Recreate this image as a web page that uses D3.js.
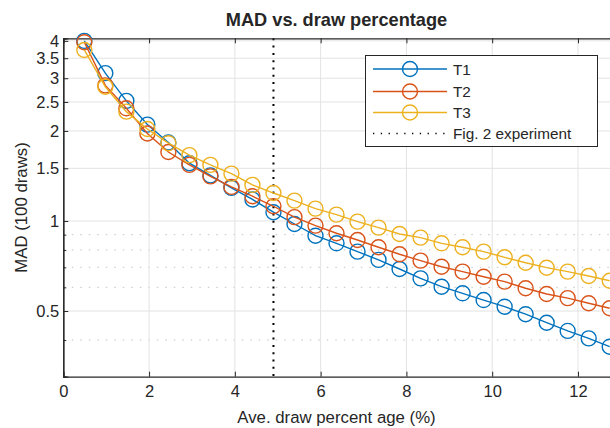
<!DOCTYPE html>
<html>
<head>
<meta charset="utf-8">
<script src="https://cdn.jsdelivr.net/npm/d3@7"></script>
<style>
  html, body { margin: 0; padding: 0; background: #fff; }
  text { font-family: "Liberation Sans", Arial, sans-serif; fill: #262626; }
</style>
</head>
<body>
<script>
// draw percentages (x)
const drawPct = [0.49, 0.98, 1.47, 1.96, 2.45, 2.94, 3.43, 3.92, 4.41, 4.90,
                 5.39, 5.88, 6.37, 6.86, 7.35, 7.84, 8.33, 8.82, 9.31, 9.80,
                 10.29, 10.78, 11.27, 11.76, 12.25, 12.74];

// MAD values per series
const t1 = [4.00, 3.12, 2.52, 2.10, 1.83, 1.56, 1.42, 1.29, 1.18, 1.07,
            0.977, 0.893, 0.842, 0.790, 0.741, 0.691, 0.643, 0.603, 0.573, 0.544,
            0.517, 0.488, 0.457, 0.429, 0.405, 0.380];
const t2 = [3.96, 2.84, 2.38, 1.96, 1.70, 1.54, 1.41, 1.30, 1.21, 1.12,
            1.03, 0.965, 0.910, 0.864, 0.817, 0.774, 0.737, 0.703, 0.677, 0.651,
            0.627, 0.596, 0.570, 0.552, 0.531, 0.511];
const t3 = [3.73, 2.81, 2.32, 2.03, 1.82, 1.66, 1.54, 1.44, 1.32, 1.24,
            1.17, 1.10, 1.05, 0.995, 0.950, 0.905, 0.880, 0.842, 0.817, 0.790,
            0.756, 0.725, 0.698, 0.677, 0.655, 0.631];

const seriesNames  = ['T1', 'T2', 'T3'];
const seriesColors = ['#0072BD', '#D95319', '#EDB120'];

// axis ticks
const xTicks     = [0, 2, 4, 6, 8, 10, 12];
const yTicks     = [0.5, 1, 1.5, 2, 2.5, 3, 3.5, 4];
const yMinor     = [0.4, 0.6, 0.7, 0.8, 0.9];
const experiment = 4.9;

const width  = 610;
const height = 428;

// plot area
const plotLeft   = 63.3;
const plotRight  = 611;
const plotTop    = 38.3;
const plotBottom = 376.7;

const svg = d3.select('body')
  .append('svg')
    .attr('width',  width)
    .attr('height', height);

// scales
const x = d3.scaleLinear().domain([0, 12.77]).range([plotLeft, plotRight]);
const y = d3.scaleLog().domain([0.3016, 4.08]).range([plotBottom, plotTop]);

// minor grid (dotted)
svg.append('g')
  .selectAll('line')
  .data(yMinor)
  .join('line')
    .attr('x1', plotLeft).attr('x2', plotRight)
    .attr('y1', (d) => y(d)).attr('y2', (d) => y(d))
    .attr('stroke', '#c4c4c4')
    .attr('stroke-width', 1)
    .attr('stroke-dasharray', '1.5,7');

// major grid
const grid = svg.append('g').attr('stroke', '#e3e3e3').attr('stroke-width', 1);

grid.selectAll('.gx')
  .data(xTicks.filter((d) => d > 0))
  .join('line')
    .attr('class', 'gx')
    .attr('x1', (d) => x(d)).attr('x2', (d) => x(d))
    .attr('y1', plotTop).attr('y2', plotBottom);

grid.selectAll('.gy')
  .data(yTicks)
  .join('line')
    .attr('class', 'gy')
    .attr('x1', plotLeft).attr('x2', plotRight)
    .attr('y1', (d) => y(d)).attr('y2', (d) => y(d));

// experiment line
svg.append('line')
  .attr('x1', x(experiment)).attr('x2', x(experiment))
  .attr('y1', plotTop).attr('y2', plotBottom)
  .attr('stroke', '#000')
  .attr('stroke-width', 2)
  .attr('stroke-dasharray', '2,5.3');

// axes
const xAxis = svg.append('g')
  .attr('transform', `translate(0,${plotBottom})`)
  .call(d3.axisBottom(x).tickValues(xTicks).tickSize(-5).tickPadding(9).tickFormat(d3.format('d')));

const xAxisTop = svg.append('g')
  .attr('transform', `translate(0,${plotTop})`)
  .call(d3.axisTop(x).tickValues(xTicks).tickSize(-5).tickFormat(''));

const yAxis = svg.append('g')
  .attr('transform', `translate(${plotLeft},0)`)
  .call(d3.axisLeft(y).tickValues(yTicks).tickSize(-5).tickPadding(4).tickFormat(d3.format('')));

const yAxisMinor = svg.append('g')
  .attr('transform', `translate(${plotLeft},0)`)
  .call(d3.axisLeft(y).tickValues(yMinor).tickSize(-3).tickFormat(''));

[xAxis, xAxisTop, yAxis, yAxisMinor].forEach((a) => {
  a.select('.domain').attr('stroke', '#262626').attr('stroke-width', 1.2);
  a.selectAll('.tick line').attr('stroke', '#262626');
  a.selectAll('.tick text')
    .attr('font-size', 16.5)
    .attr('fill', '#262626')
    .style('font-family', '"Liberation Sans", Arial, sans-serif');
});

// series
const line = d3.line()
  .x((d) => x(d[0]))
  .y((d) => y(d[1]));

[t1, t2, t3].forEach((vals, i) => {
  const pts = drawPct.map((p, j) => [p, vals[j]]);
  const g = svg.append('g');

  g.append('path')
    .datum(pts)
    .attr('d', line)
    .attr('fill', 'none')
    .attr('stroke', seriesColors[i])
    .attr('stroke-width', 1.4);

  g.selectAll('circle')
    .data(pts)
    .join('circle')
      .attr('cx', (d) => x(d[0]))
      .attr('cy', (d) => y(d[1]))
      .attr('r', 7.5)
      .attr('fill', 'none')
      .attr('stroke', seriesColors[i])
      .attr('stroke-width', 1.4);
});

// title and labels
svg.append('text')
  .attr('x', 336.5).attr('y', 26)
  .attr('text-anchor', 'middle')
  .attr('font-size', 18.2)
  .attr('font-weight', 'bold')
  .text('MAD vs. draw percentage');

svg.append('text')
  .attr('x', 336.5).attr('y', 423)
  .attr('text-anchor', 'middle')
  .attr('font-size', 16.8)
  .text('Ave. draw percent age (%)');

svg.append('text')
  .attr('transform', `translate(27,${(plotTop + plotBottom) / 2}) rotate(-90)`)
  .attr('text-anchor', 'middle')
  .attr('font-size', 16.8)
  .text('MAD (100 draws)');

// legend
const legend = svg.append('g');

legend.append('rect')
  .attr('x', 365.5).attr('y', 55.5)
  .attr('width', 232).attr('height', 91)
  .attr('fill', '#fff')
  .attr('stroke', '#262626')
  .attr('stroke-width', 1);

const legendRows = [69, 91.5, 112.5, 133.5];

seriesNames.forEach((name, i) => {
  const ly = legendRows[i];
  legend.append('line')
    .attr('x1', 373).attr('x2', 447)
    .attr('y1', ly).attr('y2', ly)
    .attr('stroke', seriesColors[i])
    .attr('stroke-width', 1.4);
  legend.append('circle')
    .attr('cx', 410).attr('cy', ly).attr('r', 7.5)
    .attr('fill', 'none')
    .attr('stroke', seriesColors[i])
    .attr('stroke-width', 1.4);
  legend.append('text')
    .attr('x', 453).attr('y', ly + 5.5)
    .attr('font-size', 15.3)
    .text(name);
});

legend.append('line')
  .attr('x1', 373).attr('x2', 447)
  .attr('y1', legendRows[3]).attr('y2', legendRows[3])
  .attr('stroke', '#000')
  .attr('stroke-width', 1.3)
  .attr('stroke-dasharray', '1.3,6.5');

legend.append('text')
  .attr('x', 453).attr('y', legendRows[3] + 5.5)
  .attr('font-size', 15.3)
  .text('Fig. 2 experiment');
</script>
</body>
</html>
